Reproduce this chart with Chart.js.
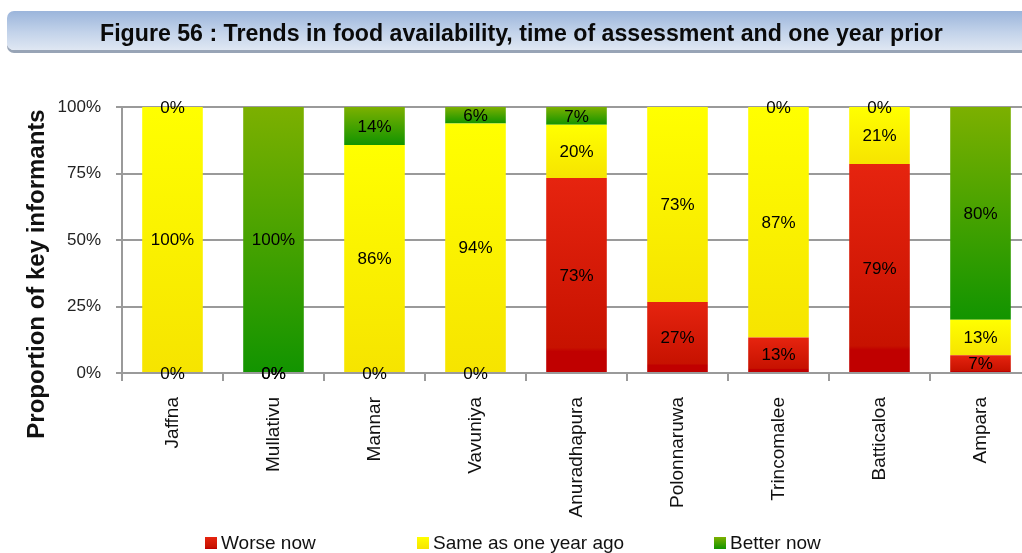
<!DOCTYPE html>
<html><head><meta charset="utf-8">
<script src="https://cdn.jsdelivr.net/npm/chart.js@4"></script>
<style>
html,body{margin:0;padding:0;background:#fff;overflow:hidden;width:1022px;height:553px;position:relative;}
#wrap{position:absolute;left:0;top:0;width:1040px;height:553px;}
#title{position:absolute;left:7px;top:11px;width:1040px;height:39px;border-radius:7px 0 0 7px;
 background:linear-gradient(#9bb5db,#c3d3ea 55%,#dfe7f3);box-shadow:0 3px 0 #98a4b6;}
#titletext{position:absolute;left:100px;top:22px;font:bold 23px "Liberation Sans",Arial,sans-serif;line-height:23px;white-space:nowrap;transform-origin:0 0;color:#0a0a0a;}
</style></head>
<body>
<div id="wrap"><canvas id="c" width="1040" height="553"></canvas></div>
<div id="title"></div>
<div id="titletext">Figure 56 : Trends in food availability, time of assessment and one year prior</div>
<script>
const categories = ['Jaffna','Mullativu','Mannar','Vavuniya','Anuradhapura','Polonnaruwa','Trincomalee','Batticaloa','Ampara'];
const worseNow      = [0, 0, 0, 0, 73.3, 26.7, 13.3, 78.6, 6.7];
const sameAsYearAgo = [100, 0, 85.7, 93.8, 20, 73.3, 86.7, 21.4, 13.3];
const betterNow     = [0, 100, 14.3, 6.2, 6.7, null, 0, 0, 80];
const seriesNames = ['Worse now', 'Same as one year ago', 'Better now'];
const yTicks = [0, 25, 50, 75, 100];
const yTitle = 'Proportion of key informants';

const redStops = [[0,'#e6240f'],[0.87,'#c71200'],[0.89,'#c00000'],[1,'#c00000']];
const yellowStops = [[0,'#ffff00'],[1,'#f6e400']];
const greenStops = [[0,'#7cb000'],[1,'#129400']];
const legendX = [205, 417, 714];

// fit title width to the reference span
(function(){const t=document.getElementById('titletext');const w=t.offsetWidth;t.style.transform='scaleX('+(843/w)+')';})();

function grad(stops){
  return (c) => {
    const chart = c.chart, ya = chart.scales.y;
    if (!ya || c.type !== 'data') return stops[0][1];
    const ds = chart.data.datasets; let start = 0;
    for (let k = 0; k < c.datasetIndex; k++) start += ds[k].data[c.dataIndex] || 0;
    const v = ds[c.datasetIndex].data[c.dataIndex] || 0;
    const top = ya.getPixelForValue(start + v), bot = ya.getPixelForValue(start);
    if (!isFinite(top) || !isFinite(bot) || bot - top < 0.5) return stops[0][1];
    const g = chart.ctx.createLinearGradient(0, top, 0, bot);
    stops.forEach(s => g.addColorStop(s[0], s[1]));
    return g;
  };
}

const labelPlugin = {
  id: 'vals',
  afterDatasetsDraw(chart) {
    const ctx = chart.ctx;
    ctx.save();
    ctx.font = '17px "Liberation Sans", Arial, sans-serif';
    ctx.fillStyle = '#000';
    ctx.textAlign = 'center';
    ctx.textBaseline = 'middle';
    chart.data.datasets.forEach((ds, i) => {
      const meta = chart.getDatasetMeta(i);
      meta.data.forEach((el, j) => {
        const v = ds.data[j];
        if (v === null || v === undefined) return;
        const y = (el.y + el.base) / 2;
        ctx.fillText(Math.round(v) + '%', el.x, y + 1);
      });
    });
    ctx.restore();
  }
};

const extrasPlugin = {
  id: 'extras',
  afterDraw(chart) {
    const ctx = chart.ctx;
    ctx.save();
    ctx.translate(37, 274);
    ctx.rotate(-Math.PI / 2);
    ctx.font = 'bold 24px "Liberation Sans", Arial, sans-serif';
    ctx.fillStyle = '#111';
    ctx.textAlign = 'center';
    ctx.textBaseline = 'middle';
    ctx.fillText(yTitle, 0, 0);
    ctx.restore();
    ctx.save();
    ctx.font = '19px "Liberation Sans", Arial, sans-serif';
    ctx.textBaseline = 'middle';
    ctx.textAlign = 'left';
    const stopsArr = [redStops, yellowStops, greenStops];
    const by = 537, bs = 12;
    seriesNames.forEach((name, i) => {
      const x = legendX[i];
      const g = ctx.createLinearGradient(0, by, 0, by + bs);
      stopsArr[i].forEach(s => g.addColorStop(s[0], s[1]));
      ctx.fillStyle = g;
      ctx.fillRect(x, by, bs, bs);
      ctx.fillStyle = '#111';
      ctx.fillText(name, x + 16, by + 7);
    });
    ctx.restore();
  }
};

new Chart(document.getElementById('c'), {
  type: 'bar',
  data: {
    labels: categories,
    datasets: [
      { label: seriesNames[0], data: worseNow, backgroundColor: grad(redStops) },
      { label: seriesNames[1], data: sameAsYearAgo, backgroundColor: grad(yellowStops) },
      { label: seriesNames[2], data: betterNow, backgroundColor: grad(greenStops) }
    ]
  },
  options: {
    responsive: false,
    animation: false,
    events: [],
    barPercentage: 0.6,
    categoryPercentage: 1.0,
    layout: { padding: { top: 107, right: 9, left: 0, bottom: 0 } },
    plugins: { legend: { display: false }, tooltip: { enabled: false } },
    scales: {
      x: {
        stacked: true,
        offset: true,
        grid: { offset: true, drawOnChartArea: false, drawTicks: true, tickLength: 8, color: '#9a9a9a', lineWidth: 2 },
        border: { color: '#9a9a9a', width: 2 },
        ticks: { minRotation: 90, maxRotation: 90, autoSkip: false, padding: 16, color: '#111',
                 font: { family: '"Liberation Sans", Arial, sans-serif', size: 19 } },
        afterFit: s => { s.height = 180; }
      },
      y: {
        stacked: true,
        min: 0, max: 100,
        afterBuildTicks: s => { s.ticks = yTicks.map(v => ({ value: v })); },
        grid: { color: '#9a9a9a', lineWidth: 2, tickLength: 6 },
        border: { color: '#9a9a9a', width: 2 },
        ticks: { padding: 15, color: '#222', callback: v => v + '%',
                 font: { family: '"Liberation Sans", Arial, sans-serif', size: 17 } },
        afterFit: s => { s.width = 122; }
      }
    }
  },
  plugins: [labelPlugin, extrasPlugin]
});
</script>
</body></html>
